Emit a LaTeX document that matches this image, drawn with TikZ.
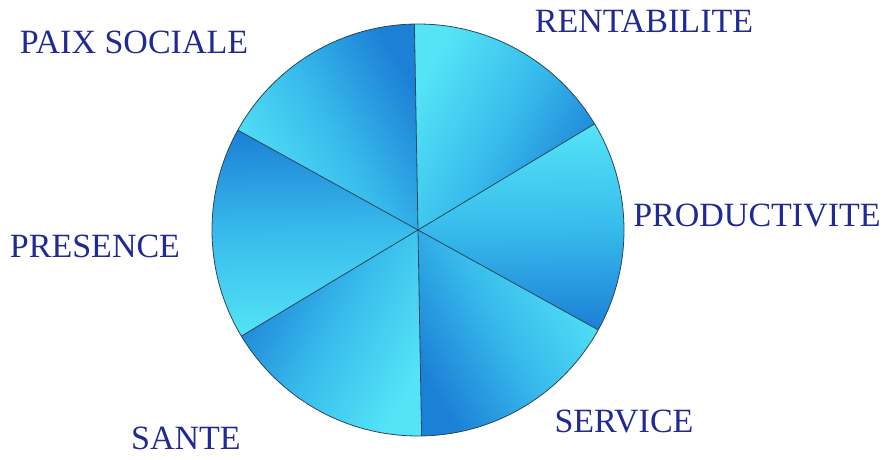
\documentclass[tikz,border=0pt]{standalone}
\usepackage{fontspec}
\setmainfont{Liberation Serif}
\definecolor{labelblue}{RGB}{32,42,148}
\definecolor{segdark}{RGB}{28,128,214}
\definecolor{segmid}{RGB}{56,188,236}
\definecolor{seglight}{RGB}{84,228,246}
\definecolor{rimline}{RGB}{40,70,90}
\tikzset{
	wheel label/.style={text=labelblue, font=\fontsize{34}{38}\selectfont, inner sep=0pt},
	spoke/.style={draw=rimline, line width=0.8pt},
}
\begin{document}
\begin{tikzpicture}[x=1pt, y=1pt, line width=0.8pt]
		\useasboundingbox (0,0) rectangle (887,459);
		\coordinate (c) at (418,229);
		% six sectors, light on the leading edge, dark on the trailing one
		\foreach \a in {31,91,151,211,271,331} {
			\pgfmathsetmacro\m{\a+30}
			\shade[top color=seglight, bottom color=segdark, middle color=segmid, shading angle=\m]
			(c) -- ++(\a:206) arc[start angle=\a, end angle=\a+60, radius=206] -- cycle;
		}
		\foreach \a in {31,91,151,211,271,331}
		\draw[spoke] (c) -- ++(\a:206);
		\draw[spoke] (c) circle[radius=206];
		% labels round the wheel
		\foreach \n/\p/\t in {%
			paix/{134,417}/{PAIX SOCIALE},
			rent/{644,438}/{RENTABILITE},
			prod/{757,243}/{PRODUCTIVITE},
			pres/{95,213}/{PRESENCE},
			sante/{186,21}/{SANTE},
			serv/{624,38}/{SERVICE}} {
			\node[wheel label] (\n) at (\p) {\t};
		}
	\end{tikzpicture}
\end{document}
